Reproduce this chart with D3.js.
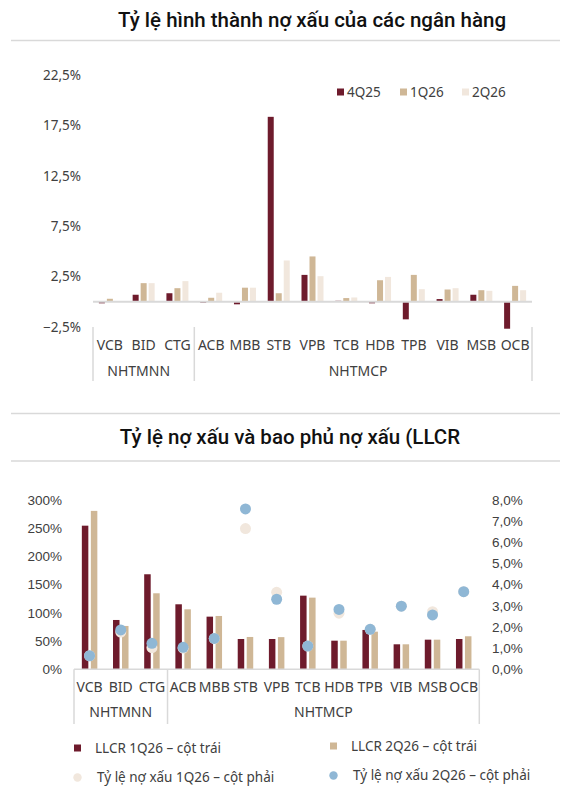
<!DOCTYPE html>
<html><head><meta charset="utf-8">
<script src="https://cdn.jsdelivr.net/npm/d3@7"></script>
<style>
html,body{margin:0;padding:0;background:#fff;}
svg{display:block;font-family:"Noto Sans",sans-serif;}
</style></head>
<body>
<svg id="c" width="575" height="802"></svg>
<script>
// ---------- data ----------
const banks = ["VCB","BID","CTG","ACB","MBB","STB","VPB","TCB","HDB","TPB","VIB","MSB","OCB"];
const groupNames = ["NHTMNN","NHTMCP"];
const groupSizes = [3,10];

// Chart 1: NPL formation rate (%)
const periods = ["4Q25","1Q26","2Q26"];
const formation4Q25 = [-0.15,0.7,0.85,-0.1,-0.25,18.35,2.67,0.1,-0.15,-1.74,0.27,0.7,-2.67];
const formation1Q26 = [0.3,1.85,1.35,0.4,1.4,0.85,4.5,0.37,2.14,2.67,1.22,1.15,1.58];
const formation2Q26 = [0,1.85,2.05,0.9,1.4,4.1,2.54,0.43,2.47,1.25,1.35,1.09,1.15];
const ticks1 = [-2.5,2.5,7.5,12.5,17.5,22.5];

// Chart 2: LLCR (%) and NPL ratio (%)
const llcr1Q26 = [254.5,87.4,168.4,115.2,93.3,53.7,53.7,130.5,50.7,69.7,44.3,52.5,53.7];
const llcr2Q26 = [280.7,76.8,134.7,106.3,94.5,57.3,57,127,50.7,66.7,44.3,52.5,58.5];
const npl1Q26 = [0.64,1.76,1.02,1.0,1.45,6.65,3.64,1.1,2.65,1.89,2.98,2.72,3.67];
const npl2Q26 = [0.64,1.86,1.23,1.04,1.46,7.58,3.31,1.1,2.83,1.89,2.98,2.57,3.67];
const ticksLeft = [0,50,100,150,200,250,300];
const ticksRight = [0,1,2,3,4,5,6,7,8];

const titles = ["Tỷ lệ hình thành nợ xấu của các ngân hàng","Tỷ lệ nợ xấu và bao phủ nợ xấu (LLCR"];
const legend2 = ["LLCR 1Q26 – cột trái","LLCR 2Q26 – cột trái","Tỷ lệ nợ xấu 1Q26 – cột phải","Tỷ lệ nợ xấu 2Q26 – cột phải"];

// ---------- style ----------
const C_RED="#6e1b2c", C_TAN="#cfb796", C_CREAM="#f1e7dd", C_BLUE="#8fb7d5";
const C_GRID="#d9d9d9", C_TEXT="#404040";
const svg = d3.select("#c");
const comma = f => s => d3.format(f)(s).replace(".",",");

// ---------- titles ----------
svg.append("text").attr("x",312).attr("y",27).attr("text-anchor","middle")
  .style("font-family","Roboto, 'Liberation Sans', sans-serif").style("font-weight",500)
  .style("font-size","20.5px").attr("fill","#111").text(titles[0]);
svg.append("line").attr("x1",11).attr("x2",560).attr("y1",40.5).attr("y2",40.5).attr("stroke",C_GRID).attr("stroke-width",1.5);
svg.append("line").attr("x1",11).attr("x2",560).attr("y1",413.5).attr("y2",413.5).attr("stroke",C_GRID).attr("stroke-width",1.5);
svg.append("text").attr("x",290).attr("y",444).attr("text-anchor","middle")
  .style("font-family","Roboto, 'Liberation Sans', sans-serif").style("font-weight",500)
  .style("font-size","20.5px").attr("fill","#111").text(titles[1]);
svg.append("line").attr("x1",11).attr("x2",560).attr("y1",461).attr("y2",461).attr("stroke",C_GRID).attr("stroke-width",1.5);

// ---------- chart 1 ----------
(function(){
  const x0 = d3.scaleBand().domain(banks).range([93,532]);
  const x1 = d3.scaleBand().domain(periods).range([0,22]).paddingInner(0.25);
  const y = d3.scaleLinear().domain([-2.5,22.5]).range([327,75]);
  const series = [formation4Q25,formation1Q26,formation2Q26];
  const colors = [C_RED,C_TAN,C_CREAM];
  const g = svg.append("g");

  const ax = g.append("g").attr("transform","translate(81,0)")
    .call(d3.axisLeft(y).tickValues(ticks1).tickSize(0).tickPadding(0).tickFormat(d=>comma(".1f")(d)+"%"));
  ax.select(".domain").remove();
  ax.selectAll("text").attr("fill",C_TEXT).style("font-size","13.5px").style("font-family","'Noto Sans',sans-serif");

  periods.forEach((p,si)=>{
    g.append("g").selectAll("rect").data(banks.map((b,i)=>({b,v:series[si][i]}))).join("rect")
      .attr("x",d=>x0(d.b)+x0.bandwidth()/2-11+x1(p))
      .attr("width",x1.bandwidth())
      .attr("y",d=>Math.min(y(d.v),y(0)))
      .attr("height",d=>Math.abs(y(d.v)-y(0)))
      .attr("fill",colors[si]);
  });
  g.append("line").attr("x1",93).attr("x2",532).attr("y1",y(0)).attr("y2",y(0)).attr("stroke",C_GRID).attr("stroke-width",2);

  const xa = g.append("g").attr("transform","translate(0,345)");
  xa.selectAll("text").data(banks).join("text")
    .attr("x",d=>x0(d)+x0.bandwidth()/2).attr("y",0).attr("dy","0.35em").attr("text-anchor","middle")
    .attr("fill",C_TEXT).style("font-size","14px").text(d=>d);
  let start=0; const seps=[0];
  groupNames.forEach((gn,gi)=>{
    const end=start+groupSizes[gi];
    const xs=x0(banks[start]), xe=x0(banks[end-1])+x0.bandwidth();
    g.append("text").attr("x",(xs+xe)/2-5).attr("y",371).attr("dy","0.35em").attr("text-anchor","middle")
      .attr("fill",C_TEXT).style("font-size","14px").text(gn);
    seps.push(end); start=end;
  });
  seps.forEach(s=>{
    const xv = s<banks.length ? x0(banks[s]) : x0(banks[banks.length-1])+x0.bandwidth();
    g.append("line").attr("x1",xv).attr("x2",xv).attr("y1",327).attr("y2",381).attr("stroke",C_GRID).attr("stroke-width",1.5);
  });

  const lx=[337,400,462];
  periods.forEach((p,i)=>{
    g.append("rect").attr("x",lx[i]).attr("y",88.5).attr("width",7).attr("height",7).attr("fill",colors[i]);
    g.append("text").attr("x",lx[i]+10).attr("y",92).attr("dy","0.35em").attr("fill",C_TEXT).style("font-size","13.5px").text(p);
  });
})();

// ---------- chart 2 ----------
(function(){
  const x0 = d3.scaleBand().domain(banks).range([74,479.3]);
  const x1 = d3.scaleBand().domain(["a","b"]).range([0,15.5]).paddingInner(0.278);
  const yL = d3.scaleLinear().domain([0,300]).range([669.3,500]);
  const yR = d3.scaleLinear().domain([0,8]).range([669.3,500]);
  const g = svg.append("g");

  const al = g.append("g").attr("transform","translate(62,0)")
    .call(d3.axisLeft(yL).tickValues(ticksLeft).tickSize(0).tickPadding(0).tickFormat(d=>d+"%"));
  al.select(".domain").remove();
  al.selectAll("text").attr("fill",C_TEXT).style("font-size","13.5px");
  const ar = g.append("g").attr("transform","translate(492,0)")
    .call(d3.axisRight(yR).tickValues(ticksRight).tickSize(0).tickPadding(0).tickFormat(d=>comma(".1f")(d)+"%"));
  ar.select(".domain").remove();
  ar.selectAll("text").attr("fill",C_TEXT).style("font-size","13.5px");

  const bars=[llcr1Q26,llcr2Q26], bcol=[C_RED,C_TAN];
  ["a","b"].forEach((k,si)=>{
    g.append("g").selectAll("rect").data(banks.map((b,i)=>({b,v:bars[si][i]}))).join("rect")
      .attr("x",d=>x0(d.b)+x0.bandwidth()/2-7.75+x1(k))
      .attr("width",x1.bandwidth())
      .attr("y",d=>yL(d.v)).attr("height",d=>yL(0)-yL(d.v)).attr("fill",bcol[si]);
  });
  g.append("line").attr("x1",74).attr("x2",479.3).attr("y1",669.3).attr("y2",669.3).attr("stroke",C_GRID).attr("stroke-width",1.5);

  const dots=[npl1Q26,npl2Q26], dcol=[C_CREAM,C_BLUE];
  dots.forEach((s,si)=>{
    g.append("g").selectAll("circle").data(banks.map((b,i)=>({b,v:s[i]}))).join("circle")
      .attr("cx",d=>x0(d.b)+x0.bandwidth()/2).attr("cy",d=>yR(d.v)).attr("r",5.5).attr("fill",dcol[si]);
  });

  g.append("g").selectAll("text").data(banks).join("text")
    .attr("x",d=>x0(d)+x0.bandwidth()/2).attr("y",687).attr("dy","0.35em").attr("text-anchor","middle")
    .attr("fill",C_TEXT).style("font-size","14px").text(d=>d);
  let start=0; const seps=[0];
  groupNames.forEach((gn,gi)=>{
    const end=start+groupSizes[gi];
    const xs=x0(banks[start]), xe=x0(banks[end-1])+x0.bandwidth();
    g.append("text").attr("x",(xs+xe)/2).attr("y",712).attr("dy","0.35em").attr("text-anchor","middle")
      .attr("fill",C_TEXT).style("font-size","14px").text(gn);
    seps.push(end); start=end;
  });
  seps.forEach(s=>{
    const xv = s<banks.length ? x0(banks[s]) : x0(banks[banks.length-1])+x0.bandwidth();
    g.append("line").attr("x1",xv).attr("x2",xv).attr("y1",669.3).attr("y2",724).attr("stroke",C_GRID).attr("stroke-width",1.5);
  });

  const L = [
    {t:legend2[0],x:74,y:748,shape:"rect",c:C_RED},
    {t:legend2[1],x:330,y:746,shape:"rect",c:C_TAN},
    {t:legend2[2],x:74,y:777,shape:"circle",c:C_CREAM},
    {t:legend2[3],x:330,y:775,shape:"circle",c:C_BLUE}
  ];
  L.forEach(d=>{
    if(d.shape==="rect") g.append("rect").attr("x",d.x).attr("y",d.y-3.5).attr("width",7).attr("height",7).attr("fill",d.c);
    else g.append("circle").attr("cx",d.x+3.5).attr("cy",d.y+0.5).attr("r",4.2).attr("fill",d.c);
    g.append("text").attr("x",d.x+(d.shape==="rect"?21:23)).attr("y",d.y).attr("dy","0.35em")
      .attr("fill",C_TEXT).style("font-size","13.5px").text(d.t);
  });
})();
</script>
</body></html>
